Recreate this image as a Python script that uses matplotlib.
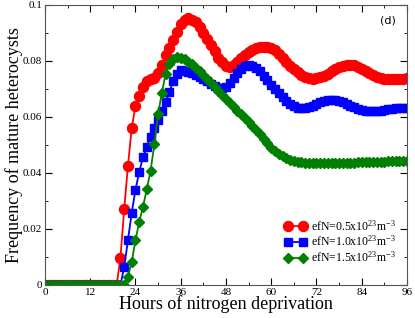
import matplotlib
matplotlib.use('Agg')
import matplotlib.pyplot as plt
import numpy as np

plt.rcParams['font.family'] = 'Liberation Serif'
plt.rcParams['mathtext.fontset'] = 'custom'
plt.rcParams['mathtext.rm'] = 'Liberation Serif'
plt.rcParams['mathtext.it'] = 'Liberation Serif:italic'

hours = list(range(0, 97))

# efN = 0.5e23
red = [0.0] * 20 + [
    0.0096, 0.027, 0.0426, 0.056, 0.064, 0.0674, 0.0706, 0.0729, 0.0735, 0.0740,  # 20-29
    0.0758, 0.0785, 0.0820, 0.0845, 0.0875, 0.0905, 0.0933, 0.0948, 0.0952, 0.0948,  # 30-39
    0.0938, 0.0922, 0.0900, 0.0878, 0.0858, 0.0835, 0.0812, 0.0795, 0.0782, 0.0780,  # 40-49
    0.0786, 0.0797, 0.0810, 0.0822, 0.0832, 0.0840, 0.0846, 0.0850, 0.0851, 0.0850,  # 50-59
    0.0846, 0.0838, 0.0826, 0.0812, 0.0797, 0.0783, 0.0770, 0.0759, 0.0750, 0.0743,  # 60-69
    0.0739, 0.0737, 0.0738, 0.0742, 0.0748, 0.0755, 0.0763, 0.0771, 0.0778, 0.0783,  # 70-79
    0.0786, 0.0786, 0.0784, 0.0779, 0.0772, 0.0764, 0.0756, 0.0749, 0.0743, 0.0739,  # 80-89
    0.0736, 0.0735, 0.0735, 0.0735, 0.0736, 0.0737, 0.0738]  # 90-96

# efN = 1.0e23
blue = [0.0] * 21 + [
    0.0063, 0.016, 0.0258, 0.034, 0.0405, 0.0456, 0.0494, 0.053, 0.056,  # 21-29
    0.0590, 0.0622, 0.0655, 0.0688, 0.0730, 0.0755, 0.0768, 0.0766, 0.0762, 0.0757,  # 30-39
    0.0750, 0.0742, 0.0734, 0.0727, 0.0719, 0.0710, 0.0703, 0.0703, 0.0708, 0.0720,  # 40-49
    0.0738, 0.0756, 0.0772, 0.0782, 0.0786, 0.0783, 0.0775, 0.0763, 0.0748, 0.0732,  # 50-59
    0.0715, 0.0699, 0.0684, 0.0670, 0.0657, 0.0646, 0.0638, 0.0633, 0.0631, 0.0632,  # 60-69
    0.0636, 0.0641, 0.0647, 0.0652, 0.0656, 0.0659, 0.0660, 0.0659, 0.0656, 0.0652,  # 70-79
    0.0647, 0.0641, 0.0635, 0.0630, 0.0626, 0.0623, 0.0621, 0.0621, 0.0621, 0.0623,  # 80-89
    0.0625, 0.0628, 0.0630, 0.0631, 0.0632, 0.0632, 0.0632]  # 90-96

# efN = 1.5e23
green = [0.0] * 22 + [
    0.0030, 0.0083, 0.016, 0.0226, 0.028, 0.0342, 0.0408, 0.0502,  # 22-29
    0.0610, 0.0687, 0.0755, 0.0790, 0.0808, 0.0815, 0.0812, 0.0806, 0.0798, 0.0788,  # 30-39
    0.0776, 0.0763, 0.0749, 0.0735, 0.0721, 0.0707, 0.0693, 0.0679, 0.0665, 0.0651,  # 40-49
    0.0637, 0.0623, 0.0609, 0.0595, 0.0581, 0.0567, 0.0553, 0.0539, 0.0522, 0.0506,  # 50-59
    0.0491, 0.0479, 0.0469, 0.0461, 0.0454, 0.0448, 0.0444, 0.0441, 0.0438, 0.0437,  # 60-69
    0.0436, 0.0435, 0.0435, 0.0435, 0.0435, 0.0435, 0.0435, 0.0435, 0.0436, 0.0436,  # 70-79
    0.0436, 0.0437, 0.0437, 0.0438, 0.0438, 0.0439, 0.0439, 0.0440, 0.0440, 0.0441,  # 80-89
    0.0441, 0.0442, 0.0442, 0.0442, 0.0443, 0.0443, 0.0443]  # 90-96

labels = [r'efN=0.5x10$^{23}$m$^{-3}$',
          r'efN=1.0x10$^{23}$m$^{-3}$',
          r'efN=1.5x10$^{23}$m$^{-3}$']

fig = plt.figure(figsize=(4.15, 3.18), dpi=100)
ax = fig.add_axes([0.1084, 0.1038, 0.8723, 0.8805])

ax.plot(hours, red, color='#ff0000', marker='o', markersize=7.2, lw=1.3, label=labels[0])
ax.plot(hours, blue, color='#0000ff', marker='s', markersize=5.6, lw=1.3, label=labels[1])
ax.plot(hours, green, color='#008000', marker='D', markersize=4.8, lw=1.3, label=labels[2])

ax.set_xlim(0, 96)
ax.set_ylim(0, 0.1)
ax.set_xticks(np.arange(0, 97, 12))
ax.set_xticks(np.arange(0, 97, 6), minor=True)
ax.set_yticks([0, 0.02, 0.04, 0.06, 0.08, 0.1])
ax.set_yticklabels(['0', '0.02', '0.04', '0.06', '0.08', '0.1'])
ax.set_yticks(np.arange(0, 0.101, 0.01), minor=True)
ax.tick_params(which='both', direction='in', top=True, right=True, labelsize=8, pad=2)
ax.tick_params(which='major', length=5)
ax.tick_params(which='minor', length=2.5)
for sp in ax.spines.values():
    sp.set_color('#555555')

ax.set_xlabel('Hours of nitrogen deprivation', fontsize=13, labelpad=-1)
ax.set_ylabel('Frequency of mature heterocysts', fontsize=13, labelpad=0)

ax.text(0.925, 0.935, '(d)', transform=ax.transAxes, fontsize=8, family='DejaVu Sans')

ax.legend(loc='center right', bbox_to_anchor=(0.972, 0.155), frameon=False, fontsize=8.5,
          numpoints=2, handlelength=1.9, handletextpad=0.35, labelspacing=0.1,
          borderpad=0.1, borderaxespad=0.0)

fig.savefig('out.png', dpi=100)
